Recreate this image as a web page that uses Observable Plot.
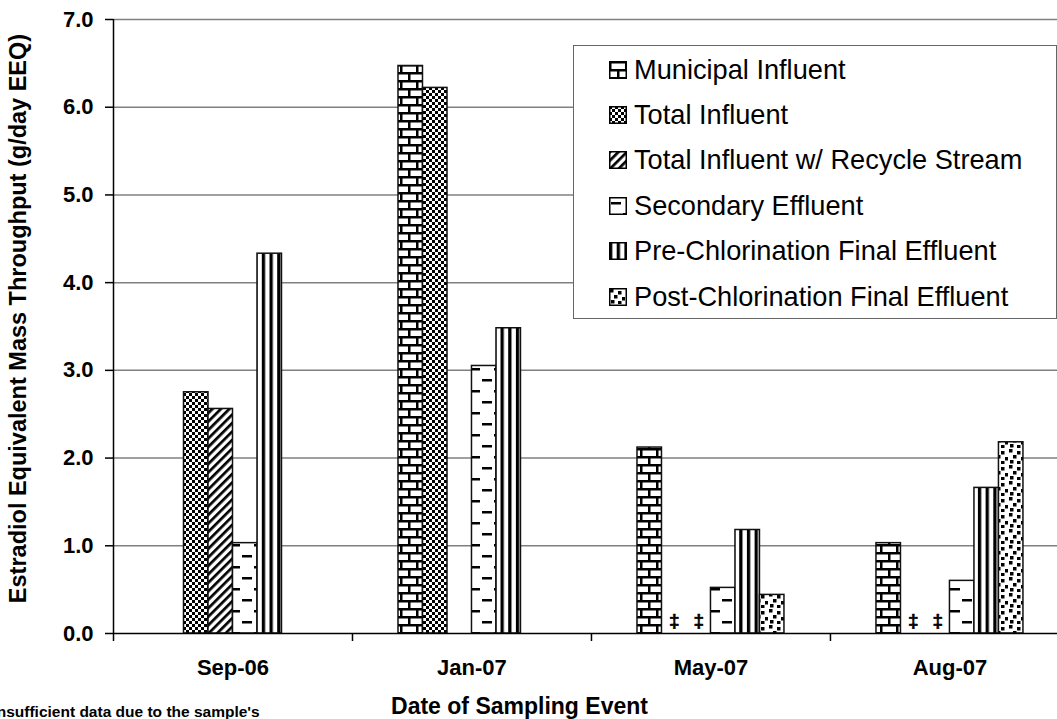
<!DOCTYPE html>
<html>
<head>
<meta charset="utf-8">
<script src="https://cdn.jsdelivr.net/npm/d3@7"></script>
<script src="https://cdn.jsdelivr.net/npm/@observablehq/plot@0.6"></script>
<style>
  html, body { margin: 0; padding: 0; background: #fff; }
  #wrap { position: relative; width: 1057px; height: 719px; overflow: hidden; font-family: "Liberation Sans", Arial, sans-serif; }
  #legend { position: absolute; left: 573px; top: 45px; width: 484px; height: 274px; box-sizing: border-box;
            border: 1.5px solid #666; background: #fff; padding-top: 1px; padding-left: 35px; }
  .row { height: 45.4px; display: flex; align-items: center; font-size: 27.2px; color: #000; white-space: nowrap; }
  .row svg { margin-right: 7px; flex: none; }
</style>
</head>
<body>
<svg width="0" height="0" style="position:absolute">
  <defs>
    <pattern id="p-muni" patternUnits="userSpaceOnUse" width="16" height="16">
      <rect width="16" height="16" fill="#fff"/>
      <rect x="0" y="0" width="16" height="2.5" fill="#000"/>
      <rect x="0" y="8" width="16" height="2.5" fill="#000"/>
      <rect x="0" y="0" width="2.5" height="8" fill="#000"/>
      <rect x="8" y="8" width="2.5" height="8" fill="#000"/>
    </pattern>
    <pattern id="p-total" patternUnits="userSpaceOnUse" width="6" height="6">
      <rect width="6" height="6" fill="#fff"/>
      <rect x="0" y="0" width="3" height="3" fill="#000"/>
      <rect x="3" y="3" width="3" height="3" fill="#000"/>
    </pattern>
    <pattern id="p-recycle" patternUnits="userSpaceOnUse" width="6" height="6" patternTransform="rotate(45)">
      <rect width="6" height="6" fill="#fff"/>
      <rect x="0" y="0" width="2.7" height="6" fill="#000"/>
    </pattern>
    <pattern id="p-secondary" patternUnits="userSpaceOnUse" width="24" height="22">
      <rect width="24" height="22" fill="#fff"/>
      <rect x="2" y="5" width="10" height="2.5" fill="#000"/>
      <rect x="14" y="16" width="10" height="2.5" fill="#000"/>
    </pattern>
    <pattern id="p-pre" patternUnits="userSpaceOnUse" width="7.7" height="8">
      <rect width="7.7" height="8" fill="#fff"/>
      <rect x="0" y="0" width="3.3" height="8" fill="#000"/>
    </pattern>
    <pattern id="p-post" patternUnits="userSpaceOnUse" width="16" height="16">
      <rect width="16" height="16" fill="#fff"/>
      <rect x="1" y="1" width="3.5" height="3.5" fill="#000"/>
      <rect x="9" y="3" width="3.5" height="3.5" fill="#000"/>
      <rect x="5" y="7" width="3.5" height="3.5" fill="#000"/>
      <rect x="13" y="9" width="3.5" height="3.5" fill="#000"/>
      <rect x="2" y="12" width="3.5" height="3.5" fill="#000"/>
      <rect x="9" y="13" width="3.5" height="3.5" fill="#000"/>
    </pattern>
  </defs>
</svg>
<div id="wrap"></div>
<script>
// ---- data ----
const dates = ["Sep-06", "Jan-07", "May-07", "Aug-07"];
const seriesNames = [
  "Municipal Influent",
  "Total Influent",
  "Total Influent w/ Recycle Stream",
  "Secondary Effluent",
  "Pre-Chlorination Final Effluent",
  "Post-Chlorination Final Effluent"
];
const municipalInfluent = [null, 6.47, 2.12, 1.03];
const totalInfluent     = [2.75, 6.22, null, null];
const recycleInfluent   = [2.56, null, null, null];
const secondaryEffluent = [1.03, 3.05, 0.52, 0.60];
const preChlorination   = [4.33, 3.48, 1.18, 1.66];
const postChlorination  = [null, null, 0.44, 2.18];
const insufficientDates  = ["May-07", "May-07", "Aug-07", "Aug-07"];
const insufficientSeries = ["Total Influent", "Total Influent w/ Recycle Stream", "Total Influent", "Total Influent w/ Recycle Stream"];
const yTicks = [0, 1, 2, 3, 4, 5, 6, 7];
const gridValues = [1, 2, 3, 4, 5, 6, 7];

const seriesValues = [municipalInfluent, totalInfluent, recycleInfluent, secondaryEffluent, preChlorination, postChlorination];
const patterns = ["p-muni", "p-total", "p-recycle", "p-secondary", "p-pre", "p-post"];

const slot = 0.1025; // fraction of a category taken by one bar
const barX1 = (i, k) => i + 0.5 + (k - 3) * slot;

const barMarks = seriesValues.map((vals, k) => {
  const rows = dates.map((d, i) => ({date: d, i, v: vals[i]})).filter(r => r.v != null);
  return Plot.rect(rows, {
    x1: r => barX1(r.i, k),
    x2: r => barX1(r.i, k) + slot,
    y1: () => 0,
    y2: r => r.v,
    fill: `url(#${patterns[k]})`,
    stroke: "#111",
    strokeWidth: 1.5
  });
});

const insuff = insufficientDates.map((d, j) => ({date: d, series: insufficientSeries[j]}));

const chart = Plot.plot({
  width: 1057,
  height: 719,
  marginLeft: 113,
  marginRight: 0,
  marginTop: 19,
  marginBottom: 86,
  style: {fontFamily: "'Liberation Sans', Arial, sans-serif", fontSize: "22px", fontWeight: "bold", color: "#000", background: "#fff"},
  x: {domain: [0, 3.95]},
  y: {domain: [0, 7]},
  marks: [
    Plot.ruleY(gridValues, {stroke: "#808080", strokeWidth: 1.5}),
    ...barMarks,
    Plot.text(insuff, {
      x: d => dates.indexOf(d.date) + 0.5 + (seriesNames.indexOf(d.series) - 2.5) * slot,
      y: () => 0,
      dy: -13,
      text: () => "‡",
      fontSize: 19,
      fontWeight: "bold",
      fill: "#000",
      stroke: "#000",
      strokeWidth: 0.6
    }),
    Plot.ruleY([0], {stroke: "#000", strokeWidth: 1.5}),
    Plot.ruleX([0], {y1: () => 0, y2: () => 7, stroke: "#000", strokeWidth: 1.5}),
    Plot.axisY({ticks: yTicks, tickSize: 8, tickPadding: 12, tickFormat: d3.format(".1f"), label: null, strokeWidth: 1.5}),
    Plot.axisX({ticks: [0, 1, 2, 3], tickSize: 8, tickFormat: () => "", label: null, strokeWidth: 1.5}),
    Plot.text(dates, {x: (d, i) => i + 0.5, frameAnchor: "bottom", dy: 34, lineAnchor: "middle", text: d => d}),
    Plot.text(["Date of Sampling Event"], {frameAnchor: "bottom", dx: -66, dy: 73, lineAnchor: "middle", fontSize: 23}),
    Plot.text(["Estradiol Equivalent Mass Throughput (g/day EEQ)"], {frameAnchor: "left", textAnchor: "middle", dx: -95, dy: -8, rotate: -90, lineAnchor: "middle", fontSize: 23.5}),
    Plot.text(["‡ Insufficient data due to the sample's"], {frameAnchor: "bottom-left", dx: -134, dy: 79, textAnchor: "start", lineAnchor: "middle", fontSize: 15.5})
  ]
});

const wrap = document.getElementById("wrap");
wrap.appendChild(chart);

// legend (HTML overlay inside the plot area)
const legend = document.createElement("div");
legend.id = "legend";
seriesNames.forEach((name, k) => {
  const row = document.createElement("div");
  row.className = "row";
  row.innerHTML = `<svg width="18" height="18"><rect x="0.75" y="0.75" width="16.5" height="16.5" fill="url(#${patterns[k]})" stroke="#000" stroke-width="1.5"/></svg><span>${name}</span>`;
  legend.appendChild(row);
});
wrap.appendChild(legend);
</script>
</body>
</html>
